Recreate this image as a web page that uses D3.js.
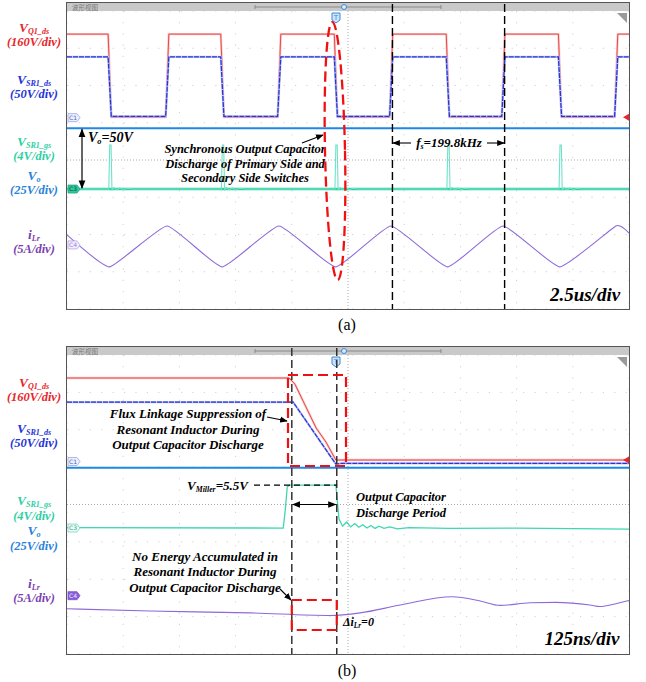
<!DOCTYPE html>
<head>
  <meta charset="utf-8">
  <script src="https://d3js.org/d3.v7.min.js"></script>
  <style>
    body { margin:0; background:#fff; }
    svg { display:block; }
  </style>
</head>

<body>
  <svg width="646" height="682"></svg>
  <script>
    // ---- panel (a): 2.5us/div, time in us, levels in screen divisions ----
    var aFall = [1.89, 6.90, 11.95, 16.93, 21.92];
    var aRise = [4.45, 9.43, 14.41, 19.40, 24.42];
    var aQ1 = {high: 3.38, low: 1.15};
    var aSR1ds = {high: 2.77, low: 1.17};
    var aVo = 0.85;
    var aGsBase = -0.78;
    // gate pulse seen right after each falling edge (offset us, div)
    var aGsPulse = [[-0.03, -0.78], [0.01, 0.40], [0.07, 0.40], [0.11, -0.80], [0.20, -0.74],
                    [0.32, -0.80], [0.45, -0.75], [0.60, -0.79], [0.80, -0.76], [1.00, -0.78]];
    var aILr = [[0, -2.01], [1.89, -2.87], [4.45, -1.77], [6.90, -2.87], [9.43, -1.77],
                [11.95, -2.87], [14.41, -1.77], [16.93, -2.87], [19.40, -1.77], [21.92, -2.87],
                [24.42, -1.77], [25, -1.96]];

    // ---- panel (b): 125ns/div, time in ns ----
    var bMarks = [500, 600];
    var bQ1 = [[0, 3.385], [494, 3.385], [507, 3.22], [554, 2.05], [576, 1.67], [598, 1.19], [1250, 1.19]];
    var bSR1ds = [[0, 2.74], [503, 2.74], [598, 1.08], [610, 1.10], [1250, 1.10]];
    var bVo = 0.98;
    var bGs = [[0, -0.62], [481, -0.63], [485, -0.2], [490, 0.48], [496, 0.52], [598, 0.52],
               [605, -0.39], [613, -0.58], [622, -0.47], [631, -0.60], [640, -0.51], [649, -0.61],
               [658, -0.54], [667, -0.63], [676, -0.56], [685, -0.64], [694, -0.58], [705, -0.64],
               [718, -0.60], [735, -0.65], [760, -0.62], [850, -0.64], [1000, -0.63], [1250, -0.66]];
    var bILr = [[0, -2.79], [185, -2.85], [407, -2.90], [585, -2.97], [652, -2.90], [741, -2.69],
                [856, -2.47], [919, -2.58], [963, -2.70], [1030, -2.63], [1088, -2.62],
                [1163, -2.69], [1186, -2.73], [1219, -2.66], [1250, -2.57]];

    var col = {q1: '#e8262b', sr: '#2535d6', gs: '#2fd0a4', vo: '#2a82da', ilr: '#7b3fb0'};
    var SERIF = 'Liberation Serif, Times New Roman, serif';

    var svg = d3.select('svg');
    var defs = svg.append('defs');
    defs.append('marker').attr('id', 'ah').attr('viewBox', '0 0 10 10')
      .attr('refX', 9).attr('refY', 5).attr('markerWidth', 7).attr('markerHeight', 7)
      .attr('orient', 'auto-start-reverse')
      .append('path').attr('d', 'M0,1 L10,5 L0,9 z').attr('fill', '#000');

    function screen(top, bottom) {
      var left = 67, right = 629;
      var g = svg.append('g');
      // grid
      for (var i = 0; i <= 10; i++) {
        var x = left + i * (right - left) / 10;
        g.append('line').attr('x1', x).attr('x2', x).attr('y1', top + 8).attr('y2', bottom)
          .attr('stroke', i == 5 ? '#aaa' : '#cfcfcf').attr('stroke-dasharray', i == 5 ? '1,2' : '1.2,10');
      }
      for (var j = 0; j <= 8; j++) {
        var y = top + 8 + j * (bottom - top - 8) / 8;
        g.append('line').attr('x1', left).attr('x2', right).attr('y1', y).attr('y2', y)
          .attr('stroke', j == 4 ? '#aaa' : '#cfcfcf').attr('stroke-dasharray', j == 4 ? '1,2' : '1.2,10.2');
      }
      // title bar
      g.append('rect').attr('x', left).attr('y', top).attr('width', right - left).attr('height', 8).attr('fill', '#c9c9c9');
      g.append('text').attr('x', 72).attr('y', top + 6.5).attr('font-size', 6.5)
        .attr('font-family', 'Noto Sans CJK SC').attr('fill', '#777').text('波形视图');
      g.append('line').attr('x1', 255).attr('x2', 441).attr('y1', top + 4).attr('y2', top + 4).attr('stroke', '#8a8a8a');
      g.append('line').attr('x1', 255).attr('x2', 255).attr('y1', top + 2).attr('y2', top + 6).attr('stroke', '#8a8a8a');
      g.append('line').attr('x1', 441).attr('x2', 441).attr('y1', top + 2).attr('y2', top + 6).attr('stroke', '#8a8a8a');
      g.append('circle').attr('cx', 344).attr('cy', top + 4).attr('r', 2.5).attr('fill', '#d8e8f8').attr('stroke', '#3a8ad8');
      // trigger marker
      g.append('path').attr('d', 'M332,' + (top + 10) + 'h8v7l-4,3l-4,-3z').attr('fill', '#cfe3fa').attr('stroke', '#3a8ad8');
      g.append('text').attr('x', 336).attr('y', top + 16.5).attr('text-anchor', 'middle')
        .attr('font-size', 7).attr('font-family', 'DejaVu Sans').attr('fill', '#3a8ad8').text('T');
      // corner flag
      g.append('path').attr('d', 'M617,' + (top + 10) + 'h10v10z').attr('fill', '#9a9a9a');
      // frame
      g.append('rect').attr('x', left - 0.5).attr('y', top - 0.5).attr('width', right - left + 1)
        .attr('height', bottom - top + 1).attr('fill', 'none').attr('stroke', '#555');
      return g;
    }

    function badge(x, y, text, stroke, fill, tcol) {
      svg.append('path').attr('d', 'M' + x + ',' + (y - 4) + 'h9l3,4l-3,4h-9z')
        .attr('fill', fill).attr('stroke', stroke).attr('stroke-width', 0.8);
      svg.append('text').attr('x', x + 5).attr('y', y + 2.3).attr('text-anchor', 'middle')
        .attr('font-size', 6).attr('font-family', 'DejaVu Sans').attr('fill', tcol).text(text);
    }
    function rightFlag(y, c) {
      svg.append('path').attr('d', 'M629,' + (y - 3.5) + 'v7l-6,-3.5z').attr('fill', c);
    }

    function rich(x, y, parts, size, color, anchor) {
      var t = svg.append('text').attr('x', x).attr('y', y)
        .attr('font-family', SERIF).attr('font-weight', 'bold').attr('font-style', 'italic')
        .attr('text-anchor', anchor || 'middle').attr('font-size', size).attr('fill', color);
      var shift = 0;
      parts.forEach(function(p) {
        var target = p[1] ? size * 0.15 : 0;
        t.append('tspan').text(p[0]).attr('dy', target - shift)
          .attr('font-size', p[1] ? size * 0.6 : size);
        shift = target;
      });
      return t;
    }

    function chLabels(ys) {
      rich(34, ys[0], [['V', 0], ['Q1_ds', 1]], 13.5, col.q1);
      rich(34, ys[1], [['(160V/div)', 0]], 12.5, col.q1);
      rich(34, ys[2], [['V', 0], ['SR1_ds', 1]], 13.5, col.sr);
      rich(34, ys[3], [['(50V/div)', 0]], 12.5, col.sr);
      rich(34, ys[4], [['V', 0], ['SR1_gs', 1]], 13.5, col.gs);
      rich(34, ys[5], [['(4V/div)', 0]], 12.5, col.gs);
      rich(34, ys[6], [['V', 0], ['o', 1]], 13.5, col.vo);
      rich(34, ys[7], [['(25V/div)', 0]], 12.5, col.vo);
      rich(34, ys[8], [['i', 0], ['Lr', 1]], 13.5, col.ilr);
      rich(34, ys[9], [['(5A/div)', 0]], 12.5, col.ilr);
    }

    // ================= panel (a) =================
    var xA = d3.scaleLinear().domain([0, 25]).range([67, 629]);
    var yA = d3.scaleLinear().domain([-4, 4]).range([309, 11]);
    var lineA = d3.line().x(d => xA(d[0])).y(d => yA(d[1]));

    screen(3, 309);

    function squarePts(lv) {
      var edges = aFall.map(t => [t, 'f']).concat(aRise.map(t => [t, 'r'])).sort((a, b) => a[0] - b[0]);
      var pts = [[0, lv.high]];
      edges.forEach(function(e) {
        var from = e[1] == 'f' ? lv.high : lv.low, to = e[1] == 'f' ? lv.low : lv.high;
        pts.push([e[0] - 0.06, from], [e[0] + 0.08, to]);
      });
      pts.push([25, pts[pts.length - 1][1]]);
      return pts;
    }
    var q1A = squarePts(aQ1), srA = squarePts(aSR1ds);
    svg.append('path').attr('d', lineA(q1A)).attr('fill', 'none').attr('stroke', '#f7c8c8').attr('stroke-width', 2.4);
    svg.append('path').attr('d', lineA(q1A)).attr('fill', 'none').attr('stroke', '#ea4a4a').attr('stroke-width', 1);
    svg.append('path').attr('d', lineA(srA)).attr('fill', 'none').attr('stroke', '#c0c5f4').attr('stroke-width', 2.2);
    svg.append('path').attr('d', lineA(srA)).attr('fill', 'none').attr('stroke', col.sr).attr('stroke-width', 1.3)
      .attr('stroke-dasharray', '5,1');

    // Vo
    svg.append('line').attr('x1', xA(0)).attr('x2', xA(25)).attr('y1', yA(aVo)).attr('y2', yA(aVo))
      .attr('stroke', '#1e88e5').attr('stroke-width', 2);

    // gate signal
    var gsA = [[0, aGsBase]];
    aFall.forEach(function(t) { aGsPulse.forEach(function(p) { gsA.push([t + p[0], p[1]]); }); });
    gsA.push([25, aGsBase]);
    svg.append('line').attr('x1', xA(0)).attr('x2', xA(25)).attr('y1', yA(aGsBase)).attr('y2', yA(aGsBase))
      .attr('stroke', col.gs).attr('stroke-width', 2.4);
    svg.append('path').attr('d', lineA(gsA)).attr('fill', 'none').attr('stroke', '#6fe3c8').attr('stroke-width', 1.1);

    // iLr
    svg.append('path').attr('d', d3.line().x(d => xA(d[0])).y(d => yA(d[1])).curve(d3.curveCardinal.tension(0.6))(aILr))
      .attr('fill', 'none').attr('stroke', '#8e6ad8').attr('stroke-width', 1.1);

    badge(68, yA(aQ1.low) + 0.5, 'C1', '#9aa6e6', '#eef0fb', '#5060c0');
    badge(68, yA(aGsBase), 'C3', '#23a884', '#2fc79d', '#0d4d3c');
    badge(68, yA(-2.28), 'C4', '#b9a3e6', '#f3eefb', '#9b80d8');
    rightFlag(yA(aQ1.low), col.q1);

    chLabels([32, 46, 84, 98, 146, 160, 180, 194, 239, 253]);

    // annotations (a)
    svg.append('line').attr('x1', 82).attr('x2', 82).attr('y1', yA(aVo) + 1).attr('y2', yA(aGsBase) - 1)
      .attr('stroke', '#000').attr('stroke-width', 1.2)
      .attr('marker-start', 'url(#ah)').attr('marker-end', 'url(#ah)');
    rich(88, 142, [['V', 0], ['o', 1], ['=50V', 0]], 14, '#000', 'start');

    [aRise[2], aRise[3]].forEach(function(t) {
      svg.append('line').attr('x1', xA(t) + 1.5).attr('x2', xA(t) + 1.5).attr('y1', 4).attr('y2', 309)
        .attr('stroke', '#000').attr('stroke-width', 1.4).attr('stroke-dasharray', '8,4');
    });
    rich(449, 147, [['f', 0], ['s', 1], ['=199.8kHz', 0]], 13, '#000');
    svg.append('line').attr('x1', 411).attr('x2', xA(aRise[2]) + 2).attr('y1', 143).attr('y2', 143)
      .attr('stroke', '#000').attr('stroke-width', 1.1).attr('marker-end', 'url(#ah)');
    svg.append('line').attr('x1', 487).attr('x2', xA(aRise[3]) + 1).attr('y1', 143).attr('y2', 143)
      .attr('stroke', '#000').attr('stroke-width', 1.1).attr('marker-end', 'url(#ah)');

    ['Synchronous Output Capacitor', 'Discharge of Primary Side and', 'Secondary Side Switches']
      .forEach(function(s, i) { rich(245, 153 + i * 14.5, [[s, 0]], 12.5, '#000'); });
    svg.append('line').attr('x1', 302).attr('y1', 143).attr('x2', 323).attr('y2', 135)
      .attr('stroke', '#000').attr('stroke-width', 1.1).attr('marker-end', 'url(#ah)');
    svg.append('ellipse').attr('cx', 335).attr('cy', 151).attr('rx', 10).attr('ry', 129)
      .attr('transform', 'rotate(-1.2,335,151)')
      .attr('fill', 'none').attr('stroke', '#f01010').attr('stroke-width', 2.3).attr('stroke-dasharray', '10,5');

    rich(585, 301, [['2.5us/div', 0]], 19, '#000');
    svg.append('text').attr('x', 347).attr('y', 330).attr('text-anchor', 'middle')
      .attr('font-family', SERIF).attr('font-size', 16).text('(a)');

    // ================= panel (b) =================
    var xB = d3.scaleLinear().domain([0, 1250]).range([67, 629]);
    var yB = d3.scaleLinear().domain([-4, 4]).range([654, 355]);
    var lineB = d3.line().x(d => xB(d[0])).y(d => yB(d[1]));

    screen(347, 654);

    svg.append('path').attr('d', lineB(bQ1)).attr('fill', 'none').attr('stroke', '#f7c8c8').attr('stroke-width', 2.4);
    svg.append('path').attr('d', lineB(bQ1)).attr('fill', 'none').attr('stroke', '#ea4a4a').attr('stroke-width', 1);
    svg.append('path').attr('d', lineB(bSR1ds)).attr('fill', 'none').attr('stroke', '#c0c5f4').attr('stroke-width', 2.2);
    svg.append('path').attr('d', lineB(bSR1ds)).attr('fill', 'none').attr('stroke', col.sr).attr('stroke-width', 1.2)
      .attr('stroke-dasharray', '5,1');
    svg.append('line').attr('x1', xB(0)).attr('x2', xB(1250)).attr('y1', yB(bVo)).attr('y2', yB(bVo))
      .attr('stroke', '#1e88e5').attr('stroke-width', 2);
    svg.append('path').attr('d', lineB(bGs)).attr('fill', 'none').attr('stroke', '#3fd6b0').attr('stroke-width', 1.3);
    svg.append('path').attr('d', d3.line().x(d => xB(d[0])).y(d => yB(d[1])).curve(d3.curveMonotoneX)(bILr))
      .attr('fill', 'none').attr('stroke', '#8e6ad8').attr('stroke-width', 1.1);

    badge(68, yB(1.15), 'C1', '#9aa6e6', '#eef0fb', '#5060c0');
    badge(68, yB(-0.63), 'C3', '#6fd8bd', '#eefbf7', '#30a080');
    badge(68, yB(-2.44), 'C4', '#7c4fd0', '#8a5ed8', '#f0eafc');
    rightFlag(yB(1.19), col.q1);

    chLabels([387, 401, 433, 447, 505, 520, 535, 550, 588, 602]);

    // annotations (b)
    bMarks.forEach(function(t) {
      svg.append('line').attr('x1', xB(t)).attr('x2', xB(t)).attr('y1', 348).attr('y2', 654)
        .attr('stroke', '#333').attr('stroke-width', 1.5).attr('stroke-dasharray', '8,4');
    });
    var red = function(sel) {
      return sel.attr('fill', 'none').attr('stroke', '#f01010').attr('stroke-width', 2.2).attr('stroke-dasharray', '10,5');
    };
    red(svg.append('rect').attr('x', 288).attr('y', 375).attr('width', 58).attr('height', 91));
    red(svg.append('rect').attr('x', xB(bMarks[0])).attr('y', 600).attr('width', xB(bMarks[1]) - xB(bMarks[0])).attr('height', 30));

    ['Flux Linkage Suppression of', 'Resonant Inductor During', 'Output Capacitor Discharge']
      .forEach(function(s, i) { rich(188, 418 + i * 15.5, [[s, 0]], 13, '#000'); });
    svg.append('line').attr('x1', 267).attr('y1', 417).attr('x2', 287).attr('y2', 421)
      .attr('stroke', '#000').attr('stroke-width', 1.1).attr('marker-end', 'url(#ah)');

    rich(248, 490, [['V', 0], ['Miller', 1], ['=5.5V', 0]], 13, '#000', 'end');
    svg.append('line').attr('x1', 254).attr('x2', xB(bMarks[1])).attr('y1', yB(0.52)).attr('y2', yB(0.52))
      .attr('stroke', '#000').attr('stroke-width', 1.2).attr('stroke-dasharray', '6,4');
    svg.append('line').attr('x1', xB(bMarks[0]) + 1).attr('x2', xB(bMarks[1]) - 1).attr('y1', yB(0)).attr('y2', yB(0))
      .attr('stroke', '#000').attr('stroke-width', 1.2)
      .attr('marker-start', 'url(#ah)').attr('marker-end', 'url(#ah)');
    rich(356, 501, [['Output Capacitor', 0]], 12.5, '#000', 'start');
    rich(356, 517, [['Discharge Period', 0]], 12.5, '#000', 'start');

    ['No Energy Accumulated in', 'Resonant Inductor During', 'Output Capacitor Discharge']
      .forEach(function(s, i) { rich(205, 561 + i * 15.3, [[s, 0]], 13, '#000'); });
    svg.append('line').attr('x1', 280).attr('y1', 589).attr('x2', 291).attr('y2', 600)
      .attr('stroke', '#000').attr('stroke-width', 1.1).attr('marker-end', 'url(#ah)');
    rich(343, 626, [['\u0394i', 0], ['Lr', 1], ['=0', 0]], 12, '#000', 'start');

    rich(582, 645, [['125ns/div', 0]], 19, '#000');
    svg.append('text').attr('x', 347).attr('y', 676).attr('text-anchor', 'middle')
      .attr('font-family', SERIF).attr('font-size', 16).text('(b)');
  </script>
</body>
